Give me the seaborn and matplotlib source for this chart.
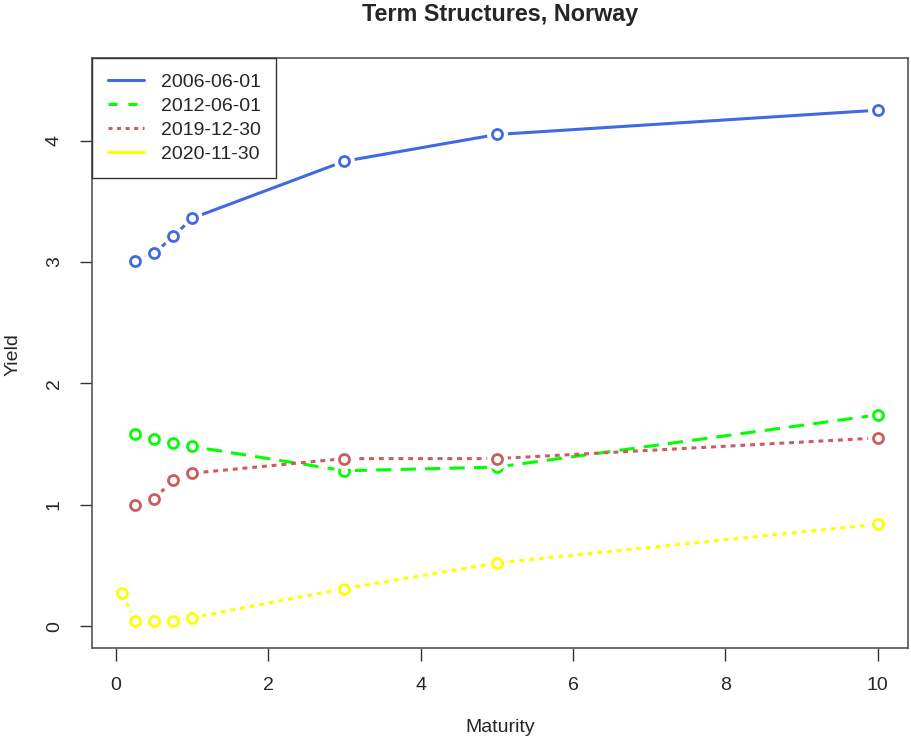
import matplotlib
matplotlib.use("Agg")
import matplotlib.pyplot as plt
from matplotlib.lines import Line2D
import seaborn as sns
import pandas as pd

# сроки погашения (годы)
maturity = [0.25, 0.5, 0.75, 1, 3, 5, 10]
maturity_2020 = [1 / 12, 0.25, 0.5, 0.75, 1, 3, 5, 10]

# доходности по датам
y_2006 = [3.01, 3.07, 3.21, 3.36, 3.83, 4.05, 4.25]
y_2012 = [1.58, 1.54, 1.51, 1.48, 1.28, 1.31, 1.74]
y_2019 = [1.00, 1.05, 1.20, 1.26, 1.38, 1.38, 1.55]
y_2020 = [0.27, 0.04, 0.04, 0.04, 0.07, 0.31, 0.52, 0.84]

labels = ["2006-06-01", "2012-06-01", "2019-12-30", "2020-11-30"]
colors = ["#4169E1", "#00FF00", "#CD5C5C", "#FFFF00"]

sns.set_style("ticks")
plt.rcParams["font.family"] = ["Liberation Sans", "DejaVu Sans"]

fig = plt.figure(figsize=(9.11, 7.4), dpi=100)
ax = fig.add_axes([92 / 911, 92 / 740, 816 / 911, 590 / 740])

series = [
    (maturity, y_2006, colors[0], None),
    (maturity, y_2012, colors[1], (5.0, 3.0)),
    (maturity, y_2019, colors[2], (1.6, 1.6)),
    (maturity_2020, y_2020, colors[3], (1.6, 1.6)),
]

lw = 2.2
for i, (x, y, col, dash) in enumerate(series):
    df = pd.DataFrame({"x": x, "y": y})
    z = 2 + i * 3
    kw = dict(color=col, linewidth=lw, zorder=z)
    if dash is not None:
        kw["dashes"] = dash
    sns.lineplot(data=df, x="x", y="y", ax=ax, estimator=None, sort=False, **kw)
    # белая подложка -> разрыв линии у точек (как type="b" в R)
    ax.plot(x, y, "o", ms=14, mfc="white", mec="white", zorder=z + 1)
    ax.plot(x, y, "o", ms=7.2, mfc="white", mec=col, mew=2.0, zorder=z + 2)

ax.set_xlim(-0.314, 10.397)
ax.set_ylim(-0.18, 4.68)
ax.set_xticks([0, 2, 4, 6, 8, 10])
ax.set_yticks([0, 1, 2, 3, 4])
ax.tick_params(axis="both", direction="out", length=9, width=1, color="#333333",
               labelsize=14, pad=12)
for lab in ax.get_yticklabels():
    lab.set_rotation(90)
    lab.set_va("center")
for sp in ax.spines.values():
    sp.set_visible(True)
    sp.set_color("#555555")
    sp.set_linewidth(1.2)

ax.set_xlabel("")
ax.set_ylabel("")
fig.text(500 / 911, 1 - 728 / 740, "Maturity", ha="center", va="center", fontsize=14)
fig.text(13 / 911, 1 - 355 / 740, "Yield", ha="center", va="center", fontsize=14, rotation=90)
fig.text(500 / 911, 1 - 15 / 740, "Term Structures, Norway", ha="center", va="center",
         fontsize=16.8, fontweight="bold")

handles = [
    Line2D([], [], color=colors[0], lw=lw, ls="-"),
    Line2D([], [], color=colors[1], lw=lw, dashes=(3, 3.5)),
    Line2D([], [], color=colors[2], lw=lw, dashes=(1.3, 1.5)),
    Line2D([], [], color=colors[3], lw=lw, ls="-"),
]
leg = ax.legend(handles, labels, loc="upper left", borderaxespad=0, fancybox=False,
                framealpha=1, edgecolor="#333333", fontsize=14, handlelength=1.85,
                handletextpad=0.88, labelspacing=0.32, borderpad=0.8)
leg.get_frame().set_linewidth(1.0)
leg.set_zorder(30)

fig.savefig("out.png", dpi=100)
